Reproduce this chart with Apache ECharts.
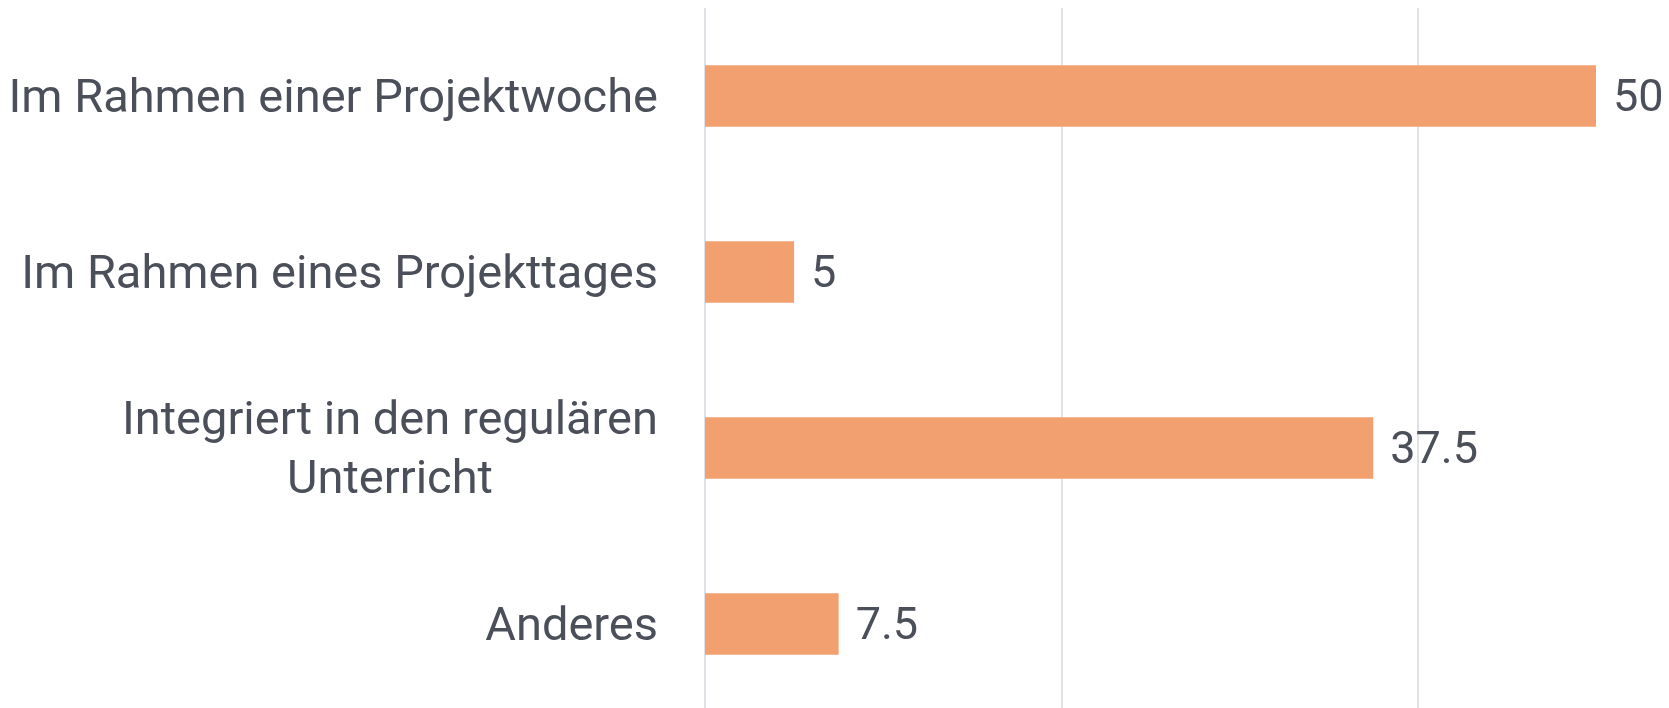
<!DOCTYPE html>
<html><head><meta charset="utf-8">
<script src="https://cdn.jsdelivr.net/npm/echarts@6/dist/echarts.min.js"></script>
<style>html,body{margin:0;padding:0;background:#fff}#c{width:1669px;height:708px}</style>
</head><body><div id="c"></div>
<script>
const categories = ["Im Rahmen einer Projektwoche", "Im Rahmen eines Projekttages", "Integriert in den regulären\nUnterricht", "Anderes"];
const values = [50, 5, 37.5, 7.5];
const xTicks = [0, 20, 40];

const LABEL_FONT = 47;
const LABEL_FAMILY = 'Roboto';
const ctx = document.createElement('canvas').getContext('2d');
ctx.font = LABEL_FONT + 'px ' + LABEL_FAMILY;

function fmt(v) {
  const lines = v.split('\n');
  if (lines.length === 1) return '{a|' + v + '}';
  const w = Math.max.apply(null, lines.map(l => ctx.measureText(l).width));
  rich['c'] = {width: Math.ceil(w), align: 'center', fontSize: LABEL_FONT, fontFamily: LABEL_FAMILY, color: '#4b4f59', lineHeight: 59};
  return lines.map(l => '{c|' + l + '}').join('\n');
}
const rich = {
  a: {fontSize: LABEL_FONT, fontFamily: LABEL_FAMILY, color: '#4b4f59', lineHeight: 59}
};
categories.forEach(c => fmt(c));

const chart = echarts.init(document.getElementById('c'));
chart.setOption({
  animation: false,
  grid: {left: 705, right: 73, top: 8, height: 704, containLabel: false, outerBoundsMode: 'none'},
  xAxis: {
    type: 'value', min: 0, max: 50, interval: 20,
    axisLabel: {show: false}, axisTick: {show: false}, axisLine: {show: false},
    splitLine: {show: true, showMaxLine: false, lineStyle: {color: '#e1e1e8', width: 2}}
  },
  yAxis: {
    type: 'category', data: categories, inverse: true,
    axisLine: {show: false}, axisTick: {show: false},
    axisLabel: {margin: 47, color: '#4b4f59', fontFamily: LABEL_FAMILY, fontSize: LABEL_FONT, lineHeight: 59, align: 'right',
      padding: [8, 0, 0, 0], formatter: fmt, rich: rich}
  },
  series: [{
    type: 'bar', data: values, barWidth: '35%',
    itemStyle: {color: '#f3a071'},
    label: {show: true, position: 'right', distance: 17, offset: [0, 4], color: '#4b4f59', fontFamily: 'Roboto', fontSize: 45}
  }]
});
</script></body></html>
